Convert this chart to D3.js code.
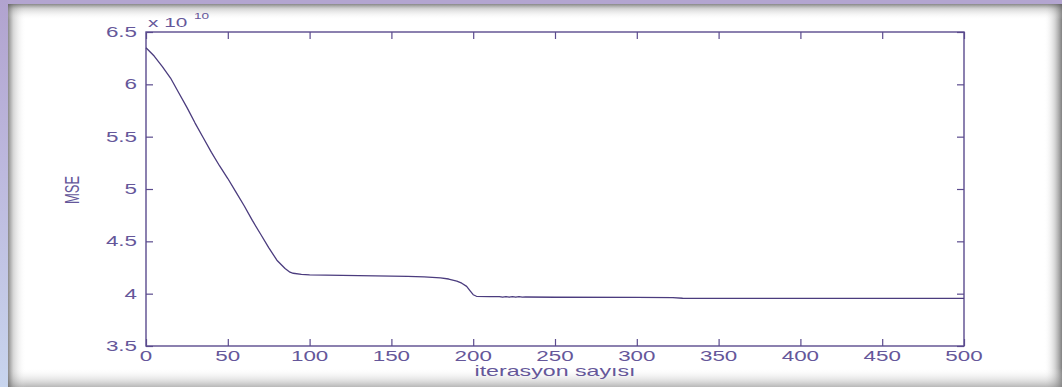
<!DOCTYPE html>
<html>
<head>
<meta charset="utf-8">
<script src="https://cdn.jsdelivr.net/npm/d3@7/dist/d3.min.js"></script>
<style>
  html, body { margin: 0; padding: 0; background: #fff; }
  svg { display: block; }
  text { font-family: "Liberation Sans", Arial, Helvetica, sans-serif; }
</style>
</head>
<body>
<svg id="chart" width="1062" height="387"></svg>
<script>
// MSE per iteration of the training run
const iterations = [0, 5, 10, 15, 20, 25, 30, 35, 40, 45, 50, 55, 60, 65, 70, 75, 80, 85, 88, 90, 95,
  100, 120, 140, 160, 170, 180, 185, 190, 193, 196, 198, 200, 202, 210, 216, 218, 220, 222, 224,
  226, 228, 230, 232, 250, 300, 322, 328, 400, 450, 500];
const mseValues = [6.35, 6.27, 6.17, 6.06, 5.92, 5.78, 5.63, 5.49, 5.35, 5.22, 5.10, 4.97, 4.84,
  4.70, 4.57, 4.44, 4.32, 4.24, 4.205, 4.195, 4.185, 4.18, 4.175, 4.17, 4.165, 4.16, 4.15, 4.14, 4.12,
  4.10, 4.07, 4.03, 3.99, 3.975, 3.972, 3.971, 3.966, 3.972, 3.966, 3.972, 3.966, 3.972, 3.967,
  3.968, 3.966, 3.965, 3.963, 3.956, 3.955, 3.955, 3.955];

const xTicks = [0, 50, 100, 150, 200, 250, 300, 350, 400, 450, 500];
const yTicks = [3.5, 4, 4.5, 5, 5.5, 6, 6.5];
const xLabel = "iterasyon sayısı";
const yLabel = "MSE";
const exponentLabel = ["x 10", "10"];

const W = 1062, H = 387;
const svg = d3.select("#chart");
const defs = svg.append("defs");

// ---- window frame: coloured edge bands and soft inner shadows ----
function linGrad(id, x1, y1, x2, y2, stops) {
  const g = defs.append("linearGradient").attr("id", id)
    .attr("x1", x1).attr("y1", y1).attr("x2", x2).attr("y2", y2);
  stops.forEach(s => g.append("stop").attr("offset", s[0]).attr("stop-color", s[1]).attr("stop-opacity", s[2]));
}
linGrad("shLeft", 0, 0, 1, 0, [[0, "#555", 0.7], [0.3, "#777", 0.3], [1, "#fff", 0]]);
linGrad("shTop", 0, 0, 0, 1, [[0, "#555", 0.7], [0.3, "#777", 0.3], [1, "#fff", 0]]);
linGrad("shRight", 0, 0, 1, 0, [[0, "#fff", 0], [0.6, "#888", 0.35], [1, "#555", 0.75]]);
linGrad("shBottom", 0, 0, 0, 1, [[0, "#fff", 0], [0.6, "#aaa", 0.3], [1, "#888", 0.6]]);
linGrad("bandLeft", 0, 0, 0, 1, [[0, "#b1a3cf", 1], [0.45, "#bdb9de", 1], [1, "#c8d5ee", 1]]);

svg.append("rect").attr("width", W).attr("height", H).attr("fill", "#fff");
svg.append("rect").attr("x", 1044).attr("y", 0).attr("width", 18).attr("height", H).attr("fill", "url(#shRight)");
svg.append("rect").attr("x", 0).attr("y", 368).attr("width", W).attr("height", 19).attr("fill", "url(#shBottom)");
svg.append("rect").attr("x", 8).attr("y", 4).attr("width", 18).attr("height", H).attr("fill", "url(#shLeft)");
svg.append("rect").attr("x", 8).attr("y", 4).attr("width", W).attr("height", 16).attr("fill", "url(#shTop)");
svg.append("rect").attr("x", 0).attr("y", 0).attr("width", W).attr("height", 4).attr("fill", "#b3a5d0");
svg.append("rect").attr("x", 0).attr("y", 0).attr("width", 8).attr("height", H).attr("fill", "url(#bandLeft)");

// ---- plot area ----
const plotLeft = 146, plotRight = 964, plotTop = 32, plotBottom = 346;
const x = d3.scaleLinear().domain([0, 500]).range([plotLeft, plotRight]);
const y = d3.scaleLinear().domain([3.5, 6.5]).range([plotBottom, plotTop]);

const axisColor = "#5b4b8e";
const textColor = "#65579a";
const lineColor = "#4b3c7e";
const SX = 1.6; // horizontal stretch of the lettering

function styleAxis(g) {
  g.select(".domain").remove();
  g.selectAll(".tick line").attr("stroke", axisColor).attr("stroke-width", 1.2);
  g.selectAll(".tick text").remove();
}
const tick = 7;
svg.append("g").attr("transform", `translate(0,${plotBottom})`)
  .call(d3.axisBottom(x).tickValues(xTicks).tickSizeInner(-tick).tickSizeOuter(0)).call(styleAxis);
svg.append("g").attr("transform", `translate(0,${plotTop})`)
  .call(d3.axisTop(x).tickValues(xTicks).tickSizeInner(-tick).tickSizeOuter(0)).call(styleAxis);
svg.append("g").attr("transform", `translate(${plotLeft},0)`)
  .call(d3.axisLeft(y).tickValues(yTicks).tickSizeInner(-tick).tickSizeOuter(0)).call(styleAxis);
svg.append("g").attr("transform", `translate(${plotRight},0)`)
  .call(d3.axisRight(y).tickValues(yTicks).tickSizeInner(-tick).tickSizeOuter(0)).call(styleAxis);

svg.append("rect").attr("x", plotLeft).attr("y", plotTop)
  .attr("width", plotRight - plotLeft).attr("height", plotBottom - plotTop)
  .attr("fill", "none").attr("stroke", axisColor).attr("stroke-width", 1.4);

// ---- the MSE curve ----
const pts = iterations.map((it, i) => [it, mseValues[i]]);
svg.append("path").datum(pts)
  .attr("fill", "none").attr("stroke", lineColor).attr("stroke-width", 1.3)
  .attr("stroke-linejoin", "round")
  .attr("d", d3.line().x(d => x(d[0])).y(d => y(d[1])));

// ---- lettering ----
function label(px, py, str, size, anchor, extra) {
  return svg.append("text")
    .attr("transform", `translate(${px},${py}) scale(${SX},1)` + (extra || ""))
    .attr("text-anchor", anchor).attr("fill", textColor)
    .style("font-size", size + "px").text(str);
}
xTicks.forEach(v => label(x(v), 361, String(v), 14, "middle"));
yTicks.forEach(v => label(137, y(v) + 5, String(v), 14, "end"));

label(148, 27, exponentLabel[0], 13, "start");
label(194, 19, exponentLabel[1], 8.5, "start");

label((plotLeft + plotRight) / 2, 376, xLabel, 14.5, "middle");
label(79, 190, yLabel, 13, "middle", " rotate(-90)");
</script>
</body>
</html>
